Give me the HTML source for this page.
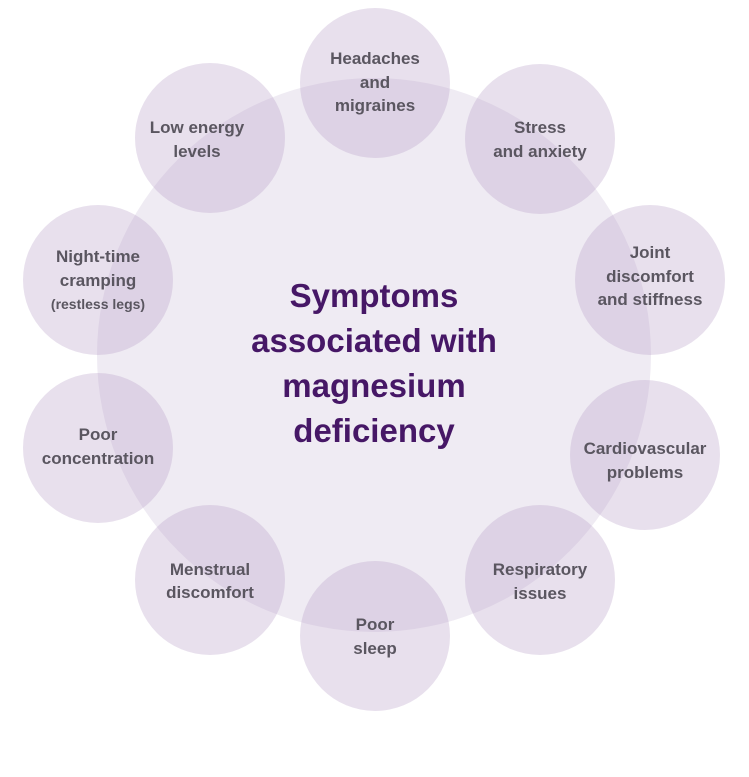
<!DOCTYPE html>
<html><head><style>
body{margin:0;background:#fff;}
svg text{font-family:"Liberation Sans",sans-serif;font-weight:bold;}
</style></head><body>
<svg width="749" height="772" viewBox="0 0 749 772" xmlns="http://www.w3.org/2000/svg">
<circle cx="374" cy="355" r="277" fill="#efebf3"/>
<g fill="rgb(185,160,200)" fill-opacity="0.33">
<circle cx="375" cy="83" r="75"/>
<circle cx="540" cy="139" r="75"/>
<circle cx="650" cy="280" r="75"/>
<circle cx="645" cy="455" r="75"/>
<circle cx="540" cy="580" r="75"/>
<circle cx="375" cy="636" r="75"/>
<circle cx="210" cy="580" r="75"/>
<circle cx="98" cy="448" r="75"/>
<circle cx="98" cy="280" r="75"/>
<circle cx="210" cy="138" r="75"/>
</g>
<g fill="#5a5660" font-size="17" text-anchor="middle">
<text x="375" y="64">Headaches</text><text x="375" y="88">and</text><text x="375" y="111">migraines</text>
<text x="540" y="133">Stress</text><text x="540" y="157">and anxiety</text>
<text x="650" y="258">Joint</text><text x="650" y="282">discomfort</text><text x="650" y="305">and stiffness</text>
<text x="645" y="454">Cardiovascular</text><text x="645" y="478">problems</text>
<text x="540" y="575">Respiratory</text><text x="540" y="599">issues</text>
<text x="375" y="630">Poor</text><text x="375" y="654">sleep</text>
<text x="210" y="575">Menstrual</text><text x="210" y="598">discomfort</text>
<text x="98" y="440">Poor</text><text x="98" y="464">concentration</text>
<text x="98" y="262">Night-time</text><text x="98" y="286">cramping</text><text x="98" y="309" font-size="14">(restless legs)</text>
<text x="197" y="133">Low energy</text><text x="197" y="157">levels</text>
</g>
<g fill="#461766" font-size="33" text-anchor="middle">
<text x="374" y="307">Symptoms</text>
<text x="374" y="352">associated with</text>
<text x="374" y="397">magnesium</text>
<text x="374" y="442">deficiency</text>
</g>
</svg>
</body></html>
